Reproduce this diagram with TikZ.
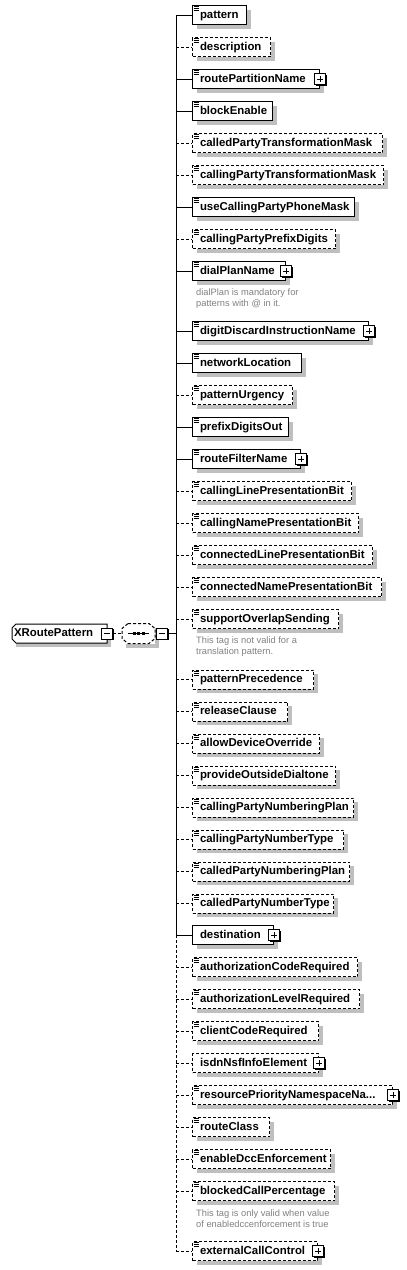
\documentclass[tikz,border=0pt]{standalone}
\usepackage{fontspec}
\setmainfont{Liberation Sans}
\usetikzlibrary{shadows, calc}
\lefthyphenmin=64
\tikzset{
  xsdshadow/.style={drop shadow={shadow xshift=4pt, shadow yshift=-4pt,
                                 fill=black!25, opacity=1}},
  xsdbox/.style={rectangle, draw, fill=white, line width=1pt,
                 minimum height=19pt, inner xsep=7.5pt, inner ysep=0pt,
                 text height=8.5pt, text depth=2.5pt, align=left, anchor=west,
                 font=\fontsize{11.4}{13}\selectfont\bfseries, xsdshadow},
  req/.style={},
  opt/.style={dash pattern=on 3pt off 2pt},
  link/.style={line width=1pt},
  rootbox/.style={rectangle, fill=white, outer sep=0pt,
                  minimum width=95pt, minimum height=19pt, inner xsep=2pt, inner ysep=0pt,
                  text height=8.5pt, text depth=2.5pt,
                  font=\fontsize{11.4}{13}\selectfont\bfseries, xsdshadow},
  seqbox/.style={rectangle, fill=white, outer sep=0pt,
                 minimum width=33pt, minimum height=20pt, inner sep=0pt, xsdshadow},
  pmbox/.style={rectangle, draw, fill=white, line width=1pt, minimum size=11pt,
                inner sep=0pt,
                drop shadow={shadow xshift=1pt, shadow yshift=-1pt, fill=black, opacity=1}},
  minusbox/.style={pmbox, path picture={
      \draw[line width=1pt] ([xshift=2.5pt]path picture bounding box.west)
                          -- ([xshift=-2.5pt]path picture bounding box.east);}},
  plusbox/.style={pmbox, path picture={
      \draw[line width=1pt] ([xshift=2.5pt]path picture bounding box.west)
                          -- ([xshift=-2.5pt]path picture bounding box.east);
      \draw[line width=1pt] ([yshift=-2.5pt]path picture bounding box.north)
                          -- ([yshift=2.5pt]path picture bounding box.south);}},
  iconline/.style={line width=1pt},
  note/.style={anchor=west, align=left, inner sep=0pt, text=black!50,
               font=\fontsize{9.3}{10.5}\selectfont},
}

\begin{document}
\begin{tikzpicture}[x=1pt, y=-1pt]
  \useasboundingbox (0,0) rectangle (407,1270);
  % root element and its sequence
  \node[rootbox, text width=91pt, align=left] (root) at (59.5,633.5) {XRoutePattern};
  \draw[link] ([xshift=4pt]root.north west) -- (root.north east) -- (root.south east)
    -- ([xshift=4pt]root.south west) -- ([yshift=4pt]root.south west)
    -- ([yshift=-4pt]root.north west) -- cycle;
  \node[minusbox] (rootmin) at (root.east) {};
  \node[seqbox] (seq) at (138.5,633.5) {};
  \draw[link, opt] ([xshift=6pt]seq.north west) -- ([xshift=-6pt]seq.north east)
    -- ([yshift=-5pt]seq.north east) -- ([yshift=5pt]seq.south east)
    -- ([xshift=-6pt]seq.south east) -- ([xshift=6pt]seq.south west)
    -- ([yshift=5pt]seq.south west) -- ([yshift=-5pt]seq.north west) -- cycle;
  \draw[link] ([xshift=-10.5pt]seq.center) -- ([xshift=10.5pt]seq.center);
  \foreach \dx in {-4.5,0,4.5}
    \fill ($(seq.center)+(\dx-1.5,-1.5)$) rectangle +(3,3);
  \node[minusbox] (seqmin) at (162,633.5) {};
  \coordinate (j-seq) at (176,633.5);
  \draw[link, opt] (rootmin) -- (seq);
  \draw[link] (seqmin) -- (j-seq);
  % children
  \foreach \nm/\y/\r/\k/\ic in {
      pattern/15/246/req/1,
      description/47/270/opt/1,
      routePartitionName/79/319/req/1,
      blockEnable/111/272/req/1,
      calledPartyTransformationMask/143/382/opt/1,
      callingPartyTransformationMask/175/383/opt/1,
      useCallingPartyPhoneMask/207/354/req/1,
      callingPartyPrefixDigits/239/335/opt/1,
      dialPlanName/271/285/req/1,
      digitDiscardInstructionName/331/368/req/1,
      networkLocation/363/301/req/1,
      patternUrgency/395/292/opt/1,
      prefixDigitsOut/427/288/req/1,
      routeFilterName/459/300/req/1,
      callingLinePresentationBit/491/351/opt/1,
      callingNamePresentationBit/523/358/opt/1,
      connectedLinePresentationBit/555/372/opt/1,
      connectedNamePresentationBit/587/381/opt/1,
      supportOverlapSending/619/338/opt/1,
      patternPrecedence/679.5/313/opt/1,
      releaseClause/711.5/287/opt/1,
      allowDeviceOverride/743.5/319/opt/1,
      provideOutsideDialtone/775.5/335/opt/1,
      callingPartyNumberingPlan/807.5/353/opt/1,
      callingPartyNumberType/839.5/343/opt/1,
      calledPartyNumberingPlan/871.5/349/opt/1,
      calledPartyNumberType/903.5/333/opt/1,
      destination/935/273/req/0,
      authorizationCodeRequired/967/357/opt/1,
      authorizationLevelRequired/999/359/opt/1,
      clientCodeRequired/1031/318/opt/1,
      isdnNsfInfoElement/1063/318/opt/0,
      routeClass/1127/269/opt/1,
      enableDccEnforcement/1159/330/opt/1,
      blockedCallPercentage/1191/334/opt/1,
      externalCallControl/1251/317/opt/1}{
    \pgfmathsetmacro\tw{\r-207}
    \coordinate (j-\nm) at (176,\y);
    \node[xsdbox, \k, text width=\tw pt] (\nm) at (192,\y) {\nm};
    \draw[link, \k] (j-\nm) -- (\nm);
    \ifnum\ic=1
      \foreach \dy in {1.5,3.5,5.5}
        \draw[iconline] ([xshift=1.5pt, yshift=-\dy pt]\nm.north west) -- ++(5,0);
    \fi
  }
  % the truncated one
  \coordinate (j-resPriority) at (176,1095);
  \node[xsdbox, opt, text width=185pt] (resPriority) at (192,1095)
    {resourcePriorityNamespaceNa...};
  \draw[link, opt] (j-resPriority) -- (resPriority);
  \foreach \dy in {1.5,3.5,5.5}
    \draw[iconline] ([xshift=1.5pt, yshift=-\dy pt]resPriority.north west) -- ++(5,0);
  % expandable children
  \foreach \nm in {routePartitionName, dialPlanName, digitDiscardInstructionName,
                   routeFilterName, destination, isdnNsfInfoElement, resPriority,
                   externalCallControl}
    \node[plusbox] (\nm-plus) at (\nm.east) {};
  % spine
  \draw[link] (j-pattern) -- (j-destination);
  \draw[link, opt] (j-destination) -- (j-externalCallControl);
  % annotations
  \node[note] (note-dial) at (196,298.5)
    {dialPlan is mandatory for\\patterns with @ in it.};
  \node[note] (note-overlap) at (196,646.5)
    {This tag is not valid for a\\translation pattern.};
  \node[note] (note-blocked) at (196,1218.5)
    {This tag is only valid when value\\of enabledccenforcement is true};
\end{tikzpicture}
\end{document}
